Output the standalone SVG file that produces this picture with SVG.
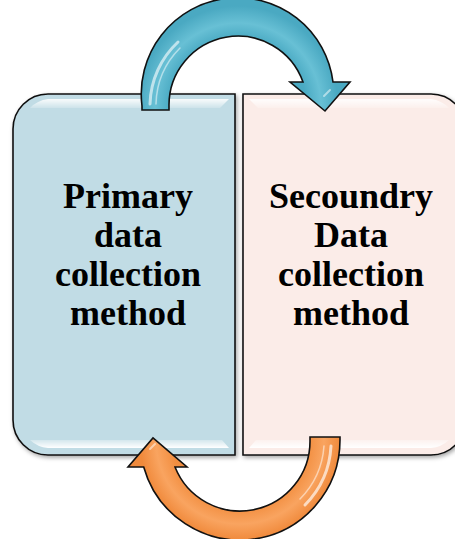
<svg xmlns="http://www.w3.org/2000/svg" width="455" height="539" viewBox="0 0 455 539">
<style>
.box{stroke:#111;stroke-width:1.6}
.lbl{font-family:"Liberation Serif","Times New Roman",serif;font-weight:bold;font-size:36px;fill:#000;text-anchor:middle}
.arrow{stroke:#111;stroke-width:1.6;stroke-linejoin:miter}
.gloss{fill:none;stroke:#fff;stroke-linecap:round}
</style>
<defs>
<filter id="sh" x="-10%" y="-10%" width="120%" height="120%">
<feDropShadow dx="1.5" dy="2" stdDeviation="2" flood-color="#000" flood-opacity="0.35"/>
</filter>
<linearGradient id="topHi" x1="0" y1="0" x2="0" y2="1">
<stop offset="0" stop-color="#fff" stop-opacity="0.9"/>
<stop offset="1" stop-color="#fff" stop-opacity="0.2"/>
</linearGradient>
<linearGradient id="botHi" x1="0" y1="0" x2="0" y2="1">
<stop offset="0" stop-color="#fff" stop-opacity="0.3"/>
<stop offset="1" stop-color="#fff" stop-opacity="1"/>
</linearGradient>
<radialGradient id="blueG" cx="238" cy="106" r="100" gradientUnits="userSpaceOnUse">
<stop offset="0.68" stop-color="#4aaac3"/>
<stop offset="0.83" stop-color="#68c0d5"/>
<stop offset="1" stop-color="#4aa9c2"/>
</radialGradient>
<radialGradient id="orangeG" cx="240" cy="440" r="100" gradientUnits="userSpaceOnUse">
<stop offset="0.68" stop-color="#f28e40"/>
<stop offset="0.84" stop-color="#f9a460"/>
<stop offset="1" stop-color="#f08a3c"/>
</radialGradient>
</defs>

<g id="node-primary">
<path class="box" filter="url(#sh)" fill="#c1dce5" d="M48,94 L235,94 L235,455 L48,455 A35,35 0 0 1 13,420 L13,129 A35,35 0 0 1 48,94 Z"/>
<path fill="url(#topHi)" d="M48,99 L229,99 L220,108 L30,108 A30,30 0 0 1 48,99 Z"/>
<path fill="url(#botHi)" d="M30,440 L222,440 L229,448 L48,448 A30,30 0 0 1 30,440 Z"/>
<text class="lbl" x="128" y="208">Primary</text>
<text class="lbl" x="128" y="247">data</text>
<text class="lbl" x="128" y="286">collection</text>
<text class="lbl" x="128" y="325">method</text>
</g>

<g id="node-secondary">
<path class="box" filter="url(#sh)" fill="#fbece8" d="M243,94 L431,94 A35,35 0 0 1 466,129 L466,420 A35,35 0 0 1 431,455 L243,455 Z"/>
<path fill="url(#topHi)" d="M249,99 L431,99 A30,30 0 0 1 449,108 L258,108 Z"/>
<path fill="url(#botHi)" d="M256,440 L449,440 A30,30 0 0 1 431,448 L249,448 Z"/>
<text class="lbl" x="351" y="208">Secoundry</text>
<text class="lbl" x="351" y="247">Data</text>
<text class="lbl" x="351" y="286">collection</text>
<text class="lbl" x="351" y="325">method</text>
</g>

<g id="connectors">
<g id="arrow-top">
<path class="arrow" fill="url(#blueG)" d="M142,110 L142,106 A96,96 0 0 1 333,82 L350,82 L325,111 L290,82 L303,82 A69,69 0 0 0 169,106 L169,110 Z"/>
<path class="gloss" stroke-width="3" stroke-opacity="0.6" d="M150,104 A88,88 0 0 1 178,42"/>
<path class="gloss" stroke-width="1.5" stroke-opacity="0.5" d="M156,104 A82,82 0 0 1 180,48"/>
<path class="gloss" stroke-width="2" stroke-opacity="0.5" d="M324,96 L330,90"/>
</g>
<g id="arrow-bottom">
<path class="arrow" fill="url(#orangeG)" d="M340,437 L340,440 A100,100 0 0 1 143.7,467 L128,467 L153,438 L187,467 L175,467 A70,70 0 0 0 310,440 L310,437 Z"/>
<path class="gloss" stroke-width="3" stroke-opacity="0.65" d="M331,446 A91,91 0 0 1 305,505"/>
<path class="gloss" stroke-width="1.5" stroke-opacity="0.5" d="M324,446 A84,84 0 0 1 300,499"/>
<path class="gloss" stroke-width="2" stroke-opacity="0.5" d="M150,449 L155,444"/>
</g>
</g>
</svg>
